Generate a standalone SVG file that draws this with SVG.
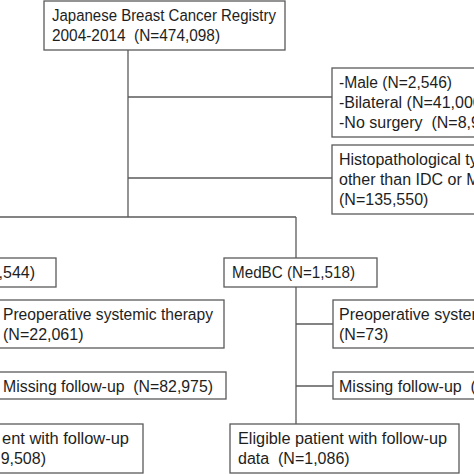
<svg xmlns="http://www.w3.org/2000/svg" width="474" height="474" viewBox="0 0 474 474">
<style>
rect{fill:#fff;stroke:#5a5a5a;stroke-width:1.3}
line{stroke:#5a5a5a;stroke-width:1.3}
text{font-family:"Liberation Sans",Arial,sans-serif;font-size:16px;fill:#1e1e1e}
</style>
<rect x="0" y="0" width="474" height="474" style="fill:#fff;stroke:none"/>
<g id="connectors">
<line x1="128" y1="50" x2="128" y2="217"/>
<line x1="128" y1="97" x2="332" y2="97"/>
<line x1="128" y1="178" x2="332" y2="178"/>
<line x1="-5" y1="217" x2="296" y2="217"/>
<line x1="296" y1="217" x2="296" y2="258"/>
<line x1="296" y1="287" x2="296" y2="424"/>
<line x1="296" y1="324" x2="333" y2="324"/>
<line x1="296" y1="386" x2="333" y2="386"/>
</g>
<g id="registry">
<rect x="44" y="1" width="241" height="49"/>
<text x="52" y="21" textLength="224" lengthAdjust="spacingAndGlyphs">Japanese Breast Cancer Registry</text>
<text x="52" y="41" textLength="168" lengthAdjust="spacingAndGlyphs" xml:space="preserve">2004-2014  (N=474,098)</text>
</g>
<g id="excl1">
<rect x="332" y="68" width="160" height="69"/>
<text x="339" y="88" textLength="113" lengthAdjust="spacingAndGlyphs">-Male (N=2,546)</text>
<text x="339" y="108">-Bilateral (N=41,000</text>
<text x="339" y="128" xml:space="preserve">-No surgery  (N=8,9</text>
</g>
<g id="excl2">
<rect x="332" y="145" width="160" height="69"/>
<text x="339" y="165">Histopathological ty</text>
<text x="339" y="185">other than IDC or M</text>
<text x="339" y="205">(N=135,550)</text>
</g>
<g id="idc">
<rect x="-100" y="258" width="156" height="29"/>
<text x="35" y="278" text-anchor="end">,544)</text>
</g>
<g id="medbc">
<rect x="224" y="258" width="153" height="29"/>
<text x="232" y="278" textLength="123" lengthAdjust="spacingAndGlyphs">MedBC (N=1,518)</text>
</g>
<g id="idc-preop">
<rect x="-5" y="300" width="229" height="48"/>
<text x="3" y="320" textLength="210" lengthAdjust="spacingAndGlyphs">Preoperative systemic therapy</text>
<text x="3" y="340">(N=22,061)</text>
</g>
<g id="idc-missing">
<rect x="-5" y="372" width="231" height="27"/>
<text x="3" y="392" textLength="210" lengthAdjust="spacingAndGlyphs" xml:space="preserve">Missing follow-up  (N=82,975)</text>
</g>
<g id="idc-eligible">
<rect x="-100" y="424" width="243" height="49"/>
<text x="2" y="444" textLength="127" lengthAdjust="spacingAndGlyphs">ent with follow-up</text>
<text x="46" y="464" text-anchor="end">9,508)</text>
</g>
<g id="medbc-preop">
<rect x="333" y="300" width="160" height="48"/>
<text x="339" y="320">Preoperative systemic</text>
<text x="339" y="340">(N=73)</text>
</g>
<g id="medbc-missing">
<rect x="333" y="372" width="160" height="27"/>
<text x="339" y="392" xml:space="preserve">Missing follow-up  (N</text>
</g>
<g id="medbc-eligible">
<rect x="230" y="424" width="229" height="49"/>
<text x="238" y="444" textLength="209" lengthAdjust="spacingAndGlyphs">Eligible patient with follow-up</text>
<text x="238" y="464" xml:space="preserve">data  (N=1,086)</text>
</g>
</svg>
